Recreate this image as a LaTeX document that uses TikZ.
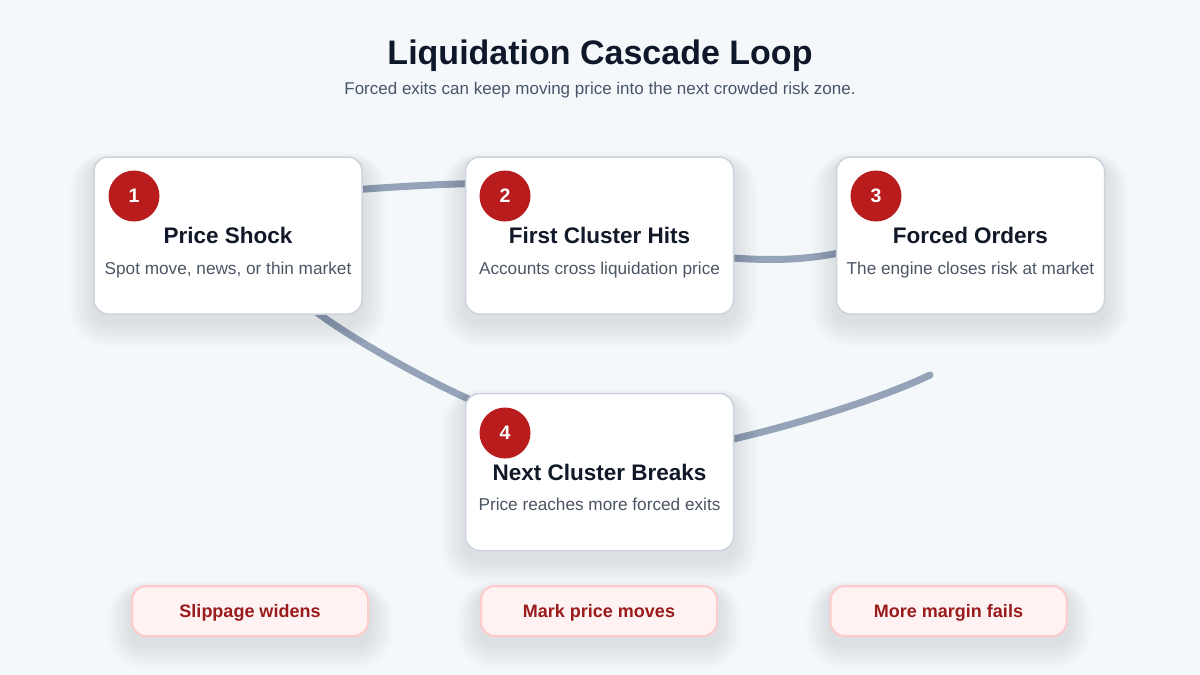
\documentclass[tikz,border=0pt]{standalone}
\usepackage{fontspec}
\setmainfont{Liberation Sans}
\definecolor{bg}{HTML}{F5F8FB}
\definecolor{cardborder}{HTML}{CDD3DC}
\definecolor{titlecol}{HTML}{111827}
\definecolor{headcol}{HTML}{0F172A}
\definecolor{subcol}{HTML}{4B5563}
\definecolor{leadcol}{HTML}{475569}
\definecolor{badge}{HTML}{B91C1C}
\definecolor{linkcol}{HTML}{94A3B8}
\definecolor{pillfill}{HTML}{FEF2F2}
\definecolor{pillborder}{HTML}{FECACA}
\definecolor{pilltext}{HTML}{991B1B}
\newcommand\softshadow[2]{%
  \foreach \i [evaluate=\i as \s using \i*2, evaluate=\i as \r using 14+\i*2] in {1,...,12}{%
    \fill[black, opacity=#2, rounded corners=\r pt]
      ([xshift=-\s pt, yshift=-6pt+0.4*\s pt]#1.north west) rectangle
      ([xshift=\s pt, yshift=-8pt-\s pt]#1.south east);
  }}
\begin{document}
\begin{tikzpicture}[x=1pt,y=-1pt,
  card/.style={draw=cardborder, line width=1.5pt, fill=white, rounded corners=14pt,
    minimum width=268pt, minimum height=157pt, inner sep=0pt},
  cardtitle/.style={font=\fontsize{22.5}{26}\selectfont\bfseries, text=titlecol, inner sep=0pt, anchor=base},
  cardtext/.style={font=\fontsize{17.2}{20}\selectfont, text=subcol, inner sep=0pt, anchor=base},
  badgenode/.style={circle, fill=badge, minimum size=51pt, inner sep=0pt,
    font=\fontsize{19.5}{22}\selectfont\bfseries, text=white},
  pill/.style={draw=pillborder, line width=2pt, fill=pillfill, rounded corners=14pt,
    minimum width=236pt, minimum height=50pt, inner sep=0pt},
  pilltextstyle/.style={font=\fontsize{18}{21}\selectfont\bfseries, text=pilltext, inner sep=0pt, anchor=base},
  link/.style={draw=linkcol, line width=7pt, line cap=round}
]
\useasboundingbox[fill=bg] (0,0) rectangle (1200,675);

% heading
\node[font=\fontsize{34}{40}\selectfont\bfseries, text=headcol, anchor=base, inner sep=0pt] (title) at (600,64) {Liquidation Cascade Loop};
\node[font=\fontsize{17}{20}\selectfont, text=leadcol, anchor=base, inner sep=0pt] (lead) at (600,94) {Forced exits can keep moving price into the next crowded risk zone.};

% connectors (behind the cards)
\coordinate (l12a) at (352,190);
\coordinate (l12b) at (478,183.5);
\coordinate (l23a) at (722,257);
\coordinate (l23b) at (848,251);
\coordinate (l34a) at (930,375);
\coordinate (l34b) at (720,442);
\coordinate (l41a) at (480,404);
\coordinate (l41b) at (305,303);
\path[link] (l12a) .. controls (392,187) and (440,184) .. (l12b);
\path[link] (l23a) .. controls (765,261) and (805,261) .. (l23b);
\path[link] (l34a) .. controls (878,400) and (785,428) .. (l34b);
\path[link] (l41b) .. controls (340,333) and (430,383) .. (l41a);

% card placement
\path (228,235.5) node[card, draw=none, fill=none] (c1) {}
      (599.5,235.5) node[card, draw=none, fill=none] (c2) {}
      (970.5,235.5) node[card, draw=none, fill=none] (c3) {}
      (599.5,472) node[card, draw=none, fill=none] (c4) {}
      (250,611) node[pill, draw=none, fill=none] (p1) {}
      (599,611) node[pill, draw=none, fill=none] (p2) {}
      (948.5,611) node[pill, draw=none, fill=none] (p3) {};

% shadows
\softshadow{c1}{0.007}
\softshadow{c2}{0.007}
\softshadow{c3}{0.007}
\softshadow{c4}{0.007}
\softshadow{p1}{0.006}
\softshadow{p2}{0.006}
\softshadow{p3}{0.006}

% cards
\node[card] (k1) at (c1) {};
\node[card] (k2) at (c2) {};
\node[card] (k3) at (c3) {};
\node[card] (k4) at (c4) {};

\node[badgenode] (b1) at (134,196) {1};
\node[badgenode] (b2) at (505,196) {2};
\node[badgenode] (b3) at (876,196) {3};
\node[badgenode] (b4) at (505,433) {4};

\node[cardtitle] (t1) at (228,243.5) {Price Shock};
\node[cardtext] (s1) at (228,274) {Spot move, news, or thin market};
\node[cardtitle] (t2) at (599.5,243.5) {First Cluster Hits};
\node[cardtext] (s2) at (599.5,274) {Accounts cross liquidation price};
\node[cardtitle] (t3) at (970.5,243.5) {Forced Orders};
\node[cardtext] (s3) at (970.5,274) {The engine closes risk at market};
\node[cardtitle] (t4) at (599.5,480) {Next Cluster Breaks};
\node[cardtext] (s4) at (599.5,510.5) {Price reaches more forced exits};

% pills
\node[pill] (q1) at (p1) {};
\node[pill] (q2) at (p2) {};
\node[pill] (q3) at (p3) {};
\node[pilltextstyle] (r1) at (250,617) {Slippage widens};
\node[pilltextstyle] (r2) at (599,617) {Mark price moves};
\node[pilltextstyle] (r3) at (948.5,617) {More margin fails};
\end{tikzpicture}
\end{document}
